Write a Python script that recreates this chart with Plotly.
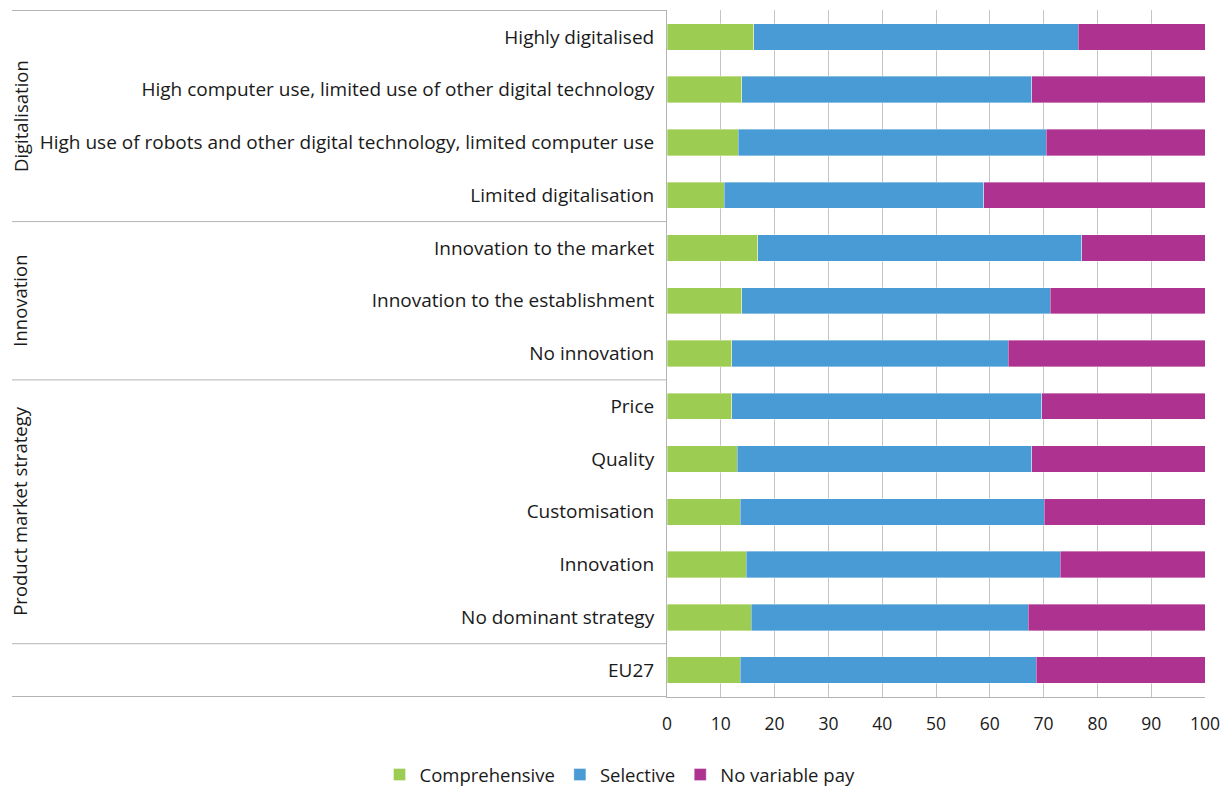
import plotly.graph_objects as go

categories = [
    "Highly digitalised",
    "High computer use, limited use of other digital technology",
    "High use of robots and other digital technology, limited computer use",
    "Limited digitalisation",
    "Innovation to the market",
    "Innovation to the establishment",
    "No innovation",
    "Price",
    "Quality",
    "Customisation",
    "Innovation",
    "No dominant strategy",
    "EU27",
]
comprehensive = [16.1, 13.9, 13.2, 10.6, 16.9, 13.9, 12.0, 12.0, 13.1, 13.6, 14.7, 15.7, 13.6]
selective = [60.3, 53.9, 57.3, 48.3, 60.2, 57.3, 51.4, 57.7, 54.7, 56.5, 58.4, 51.4, 55.0]
no_variable = [23.6, 32.2, 29.5, 41.1, 22.9, 28.8, 36.6, 30.3, 32.2, 29.9, 26.9, 32.9, 31.4]

groups = ["Digitalisation", "Innovation", "Product market strategy", ""]
group_sizes = [4, 3, 5, 1]
x_ticks = [0, 10, 20, 30, 40, 50, 60, 70, 80, 90, 100]

series = [
    ("Comprehensive", comprehensive, "#9DCC52"),
    ("Selective", selective, "#489BD5"),
    ("No variable pay", no_variable, "#AE3391"),
]

FONT = "Open Sans"
fig = go.Figure()
for name, vals, col in series:
    fig.add_trace(go.Bar(
        y=categories, x=vals, name=name, orientation="h",
        marker=dict(color=col, line=dict(width=0.6, color="rgba(255,255,255,0.6)")),
        width=0.5,
    ))

OFF = 8  # page body margin
W, H = 1231 - OFF, 789 - OFF
ml, mr, mt, mb = 667 - OFF, 26, 10 - OFF, 92
pw = W - ml - mr
ph = H - mt - mb

shapes = []
annotations = []
start = 0
bounds = [-0.5]
for g, n in zip(groups, group_sizes):
    bounds.append(start + n - 0.5)
    if g:
        annotations.append(dict(
            text=g, textangle=-90, xref="paper", yref="y",
            x=(20 - 667) / pw, y=start + (n - 1) / 2, showarrow=False,
            xanchor="center", yanchor="middle",
            font=dict(family=FONT, size=18.5, color="#1a1a1a"),
        ))
    start += n
for b in bounds:
    shapes.append(dict(type="line", xref="paper", yref="y", x0=(12 - 667) / pw, x1=0,
                       y0=b, y1=b, line=dict(color="#b4b4b4", width=1)))

fig.update_layout(
    width=W, height=H,
    margin=dict(l=ml, r=mr, t=mt, b=mb, autoexpand=False),
    barmode="stack",
    plot_bgcolor="white", paper_bgcolor="white",
    font=dict(family=FONT, size=18, color="#1a1a1a"),
    showlegend=True,
    legend=dict(orientation="h", x=(620 - 667) / pw, xanchor="center",
                y=-(775 - 697) / ph, yanchor="middle",
                font=dict(family=FONT, size=18.5, color="#1a1a1a"),
                traceorder="normal"),
    shapes=shapes,
    annotations=annotations,
)
fig.update_xaxes(range=[0, 100], tickvals=x_ticks, showgrid=True, gridcolor="#c4c4c4",
                 gridwidth=1, zeroline=False, showline=True, linecolor="#b4b4b4",
                 ticks="", ticklabelstandoff=11,
                 tickfont=dict(family=FONT, size=17.5, color="#1a1a1a"))
fig.update_yaxes(categoryorder="array", categoryarray=categories, autorange="reversed",
                 showline=True, linecolor="#b4b4b4", ticks="", ticklabelstandoff=8,
                 showgrid=False,
                 tickfont=dict(family=FONT, size=19, color="#1a1a1a"))

fig.write_html("out.html")
